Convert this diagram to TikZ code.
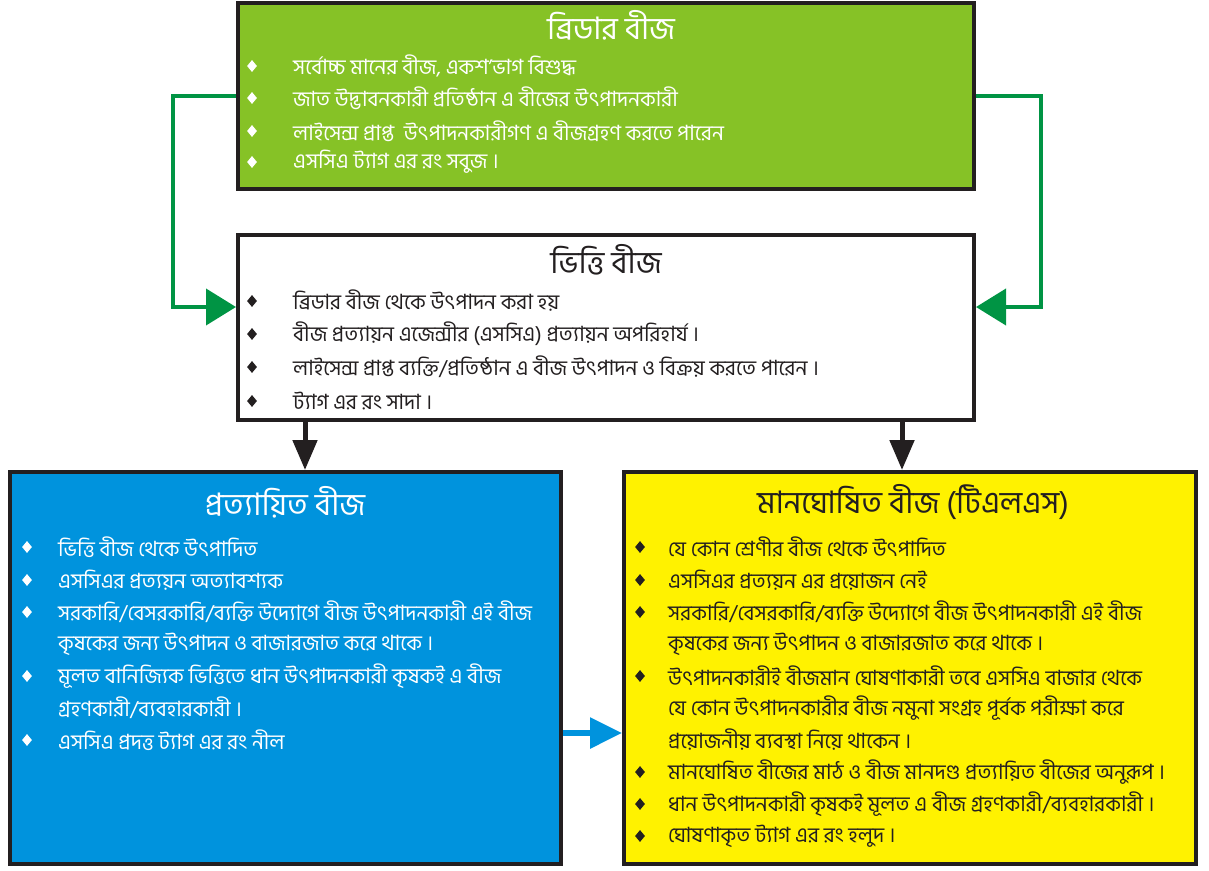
\documentclass[tikz,border=0pt]{standalone}
\usepackage{fontspec}
\usetikzlibrary{arrows.meta,shapes.geometric}
\newfontfamily\bn[Script=Bengali]{Hind Siliguri}
\definecolor{dk}{HTML}{231F20}
\definecolor{gfill}{HTML}{86C226}
\definecolor{bfill}{HTML}{0093DD}
\definecolor{yfill}{HTML}{FFF200}
\definecolor{garr}{HTML}{009444}
\tikzset{
  box/.style={draw=dk, line width=4pt, rectangle, inner sep=0pt},
  ttl/.style={font=\bn\fontsize{31}{34}\selectfont, inner sep=0pt},
  txt/.style={font=\bn\fontsize{21}{24}\selectfont, inner sep=0pt, anchor=west},
  bul/.style={diamond, inner sep=0pt, minimum width=10pt, minimum height=12pt},
  gline/.style={draw=garr, line width=4pt, -{Triangle[length=30pt,width=36pt]}},
  kline/.style={draw=dk, line width=5pt, -{Triangle[length=30pt,width=24pt]}},
  bline/.style={draw=bfill, line width=6pt, -{Triangle[length=32pt,width=30pt]}},
}
\begin{document}
\begin{tikzpicture}[x=1pt,y=-1pt]
\useasboundingbox (0,0) rectangle (1209,870);
% boxes
\node[box, fill=gfill, minimum width=736pt, minimum height=186pt] (top) at (606,96) {};
\node[box, fill=white, minimum width=736pt, minimum height=185pt] (mid) at (606,327.5) {};
\node[box, fill=bfill, minimum width=551pt, minimum height=392pt] (bl) at (285.5,668) {};
\node[box, fill=yfill, minimum width=572pt, minimum height=392pt] (br) at (910,668) {};
% connectors
\draw[gline] (top.west) -- ++(-63,0) |- ([yshift=20.5pt]mid.west);
\draw[gline] (top.east) -- ++(65,0) |- ([yshift=20.5pt]mid.east);
\draw[kline] ([xshift=-301pt]mid.south) -- ([xshift=19.5pt]bl.north);
\draw[kline] ([xshift=296pt]mid.south) -- ([xshift=-8pt]br.north);
\draw[bline] ([yshift=-65pt]bl.east) -- ([yshift=-65pt]br.west);
% top box
\node[ttl, text=white] (tT) at (611,25) {ব্রিডার বীজ};
\begin{scope}[every node/.append style={text=white}]
\node[bul, fill=white] (tb1) at (252,66) {};
\node[bul, fill=white] (tb2) at (252,98) {};
\node[bul, fill=white] (tb3) at (252,131) {};
\node[bul, fill=white] (tb4) at (252,162) {};
\node[txt] (tt1) at (293,66) {সর্বোচ্চ মানের বীজ, একশ’ভাগ বিশুদ্ধ};
\node[txt] (tt2) at (293,98) {জাত উদ্ভাবনকারী প্রতিষ্ঠান এ বীজের উৎপাদনকারী};
\node[txt] (tt3) at (293,131) {লাইসেন্স প্রাপ্ত\ \ উৎপাদনকারীগণ এ বীজগ্রহণ করতে পারেন};
\node[txt] (tt4) at (293,162) {এসসিএ ট্যাগ এর রং সবুজ ।};
\end{scope}
% middle box
\node[ttl, text=dk] (mT) at (606,260) {ভিত্তি বীজ};
\node[bul, fill=dk] (mb1) at (252,301) {};
\node[bul, fill=dk] (mb2) at (252,334) {};
\node[bul, fill=dk] (mb3) at (252,367) {};
\node[bul, fill=dk] (mb4) at (252,401) {};
\node[txt, text=dk] (mt1) at (293,301) {ব্রিডার বীজ থেকে উৎপাদন করা হয়};
\node[txt, text=dk] (mt2) at (293,334) {বীজ প্রত্যায়ন এজেন্সীর (এসসিএ) প্রত্যায়ন অপরিহার্য ।};
\node[txt, text=dk] (mt3) at (293,367) {লাইসেন্স প্রাপ্ত ব্যক্তি/প্রতিষ্ঠান এ বীজ উৎপাদন ও বিক্রয় করতে পারেন ।};
\node[txt, text=dk] (mt4) at (293,401) {ট্যাগ এর রং সাদা ।};
% bottom-left
\node[ttl, text=white] (lT) at (285,502) {প্রত্যায়িত বীজ};
\begin{scope}[every node/.append style={text=white}]
\node[bul, fill=white] (lb1) at (27,547) {};
\node[bul, fill=white] (lb2) at (27,580) {};
\node[bul, fill=white] (lb3) at (27,612) {};
\node[bul, fill=white] (lb4) at (27,676) {};
\node[bul, fill=white] (lb5) at (27,740) {};
\node[txt] (lt1) at (58,547) {ভিত্তি বীজ থেকে উৎপাদিত};
\node[txt] (lt2) at (58,580) {এসসিএর প্রত্যয়ন অত্যাবশ্যক};
\node[txt] (lt3) at (58,612) {সরকারি/বেসরকারি/ব্যক্তি উদ্যোগে বীজ উৎপাদনকারী এই বীজ};
\node[txt] (lt3b) at (58,644) {কৃষকের জন্য উৎপাদন ও বাজারজাত করে থাকে ।};
\node[txt] (lt4) at (58,676) {মূলত বানিজ্যিক ভিত্তিতে ধান উৎপাদনকারী কৃষকই এ বীজ};
\node[txt] (lt4b) at (58,708) {গ্রহণকারী/ব্যবহারকারী ।};
\node[txt] (lt5) at (58,740) {এসসিএ প্রদত্ত ট্যাগ এর রং নীল};
\end{scope}
% bottom-right
\node[ttl, text=dk] (rT) at (913,502) {মানঘোষিত বীজ (টিএলএস)};
\begin{scope}[every node/.append style={text=dk}]
\node[bul, fill=dk] (rb1) at (640,547) {};
\node[bul, fill=dk] (rb2) at (640,580) {};
\node[bul, fill=dk] (rb3) at (640,612) {};
\node[bul, fill=dk] (rb4) at (640,676) {};
\node[bul, fill=dk] (rb5) at (640,772) {};
\node[bul, fill=dk] (rb6) at (640,804) {};
\node[bul, fill=dk] (rb7) at (640,836) {};
\node[txt] (rt1) at (668,547) {যে কোন শ্রেণীর বীজ থেকে উৎপাদিত};
\node[txt] (rt2) at (668,580) {এসসিএর প্রত্যয়ন এর প্রয়োজন নেই};
\node[txt] (rt3) at (668,612) {সরকারি/বেসরকারি/ব্যক্তি উদ্যোগে বীজ উৎপাদনকারী এই বীজ};
\node[txt] (rt3b) at (668,644) {কৃষকের জন্য উৎপাদন ও বাজারজাত করে থাকে ।};
\node[txt] (rt4) at (668,676) {উৎপাদনকারীই বীজমান ঘোষণাকারী তবে এসসিএ বাজার থেকে};
\node[txt] (rt4b) at (668,708) {যে কোন উৎপাদনকারীর বীজ নমুনা সংগ্রহ পূর্বক পরীক্ষা করে};
\node[txt] (rt4c) at (668,740) {প্রয়োজনীয় ব্যবস্থা নিয়ে থাকেন ।};
\node[txt] (rt5) at (668,772) {মানঘোষিত বীজের মাঠ ও বীজ মানদণ্ড প্রত্যায়িত বীজের অনুরূপ ।};
\node[txt] (rt6) at (668,804) {ধান উৎপাদনকারী কৃষকই মূলত এ বীজ গ্রহণকারী/ব্যবহারকারী ।};
\node[txt] (rt7) at (668,836) {ঘোষণাকৃত ট্যাগ এর রং হলুদ ।};
\end{scope}
\end{tikzpicture}
\end{document}
